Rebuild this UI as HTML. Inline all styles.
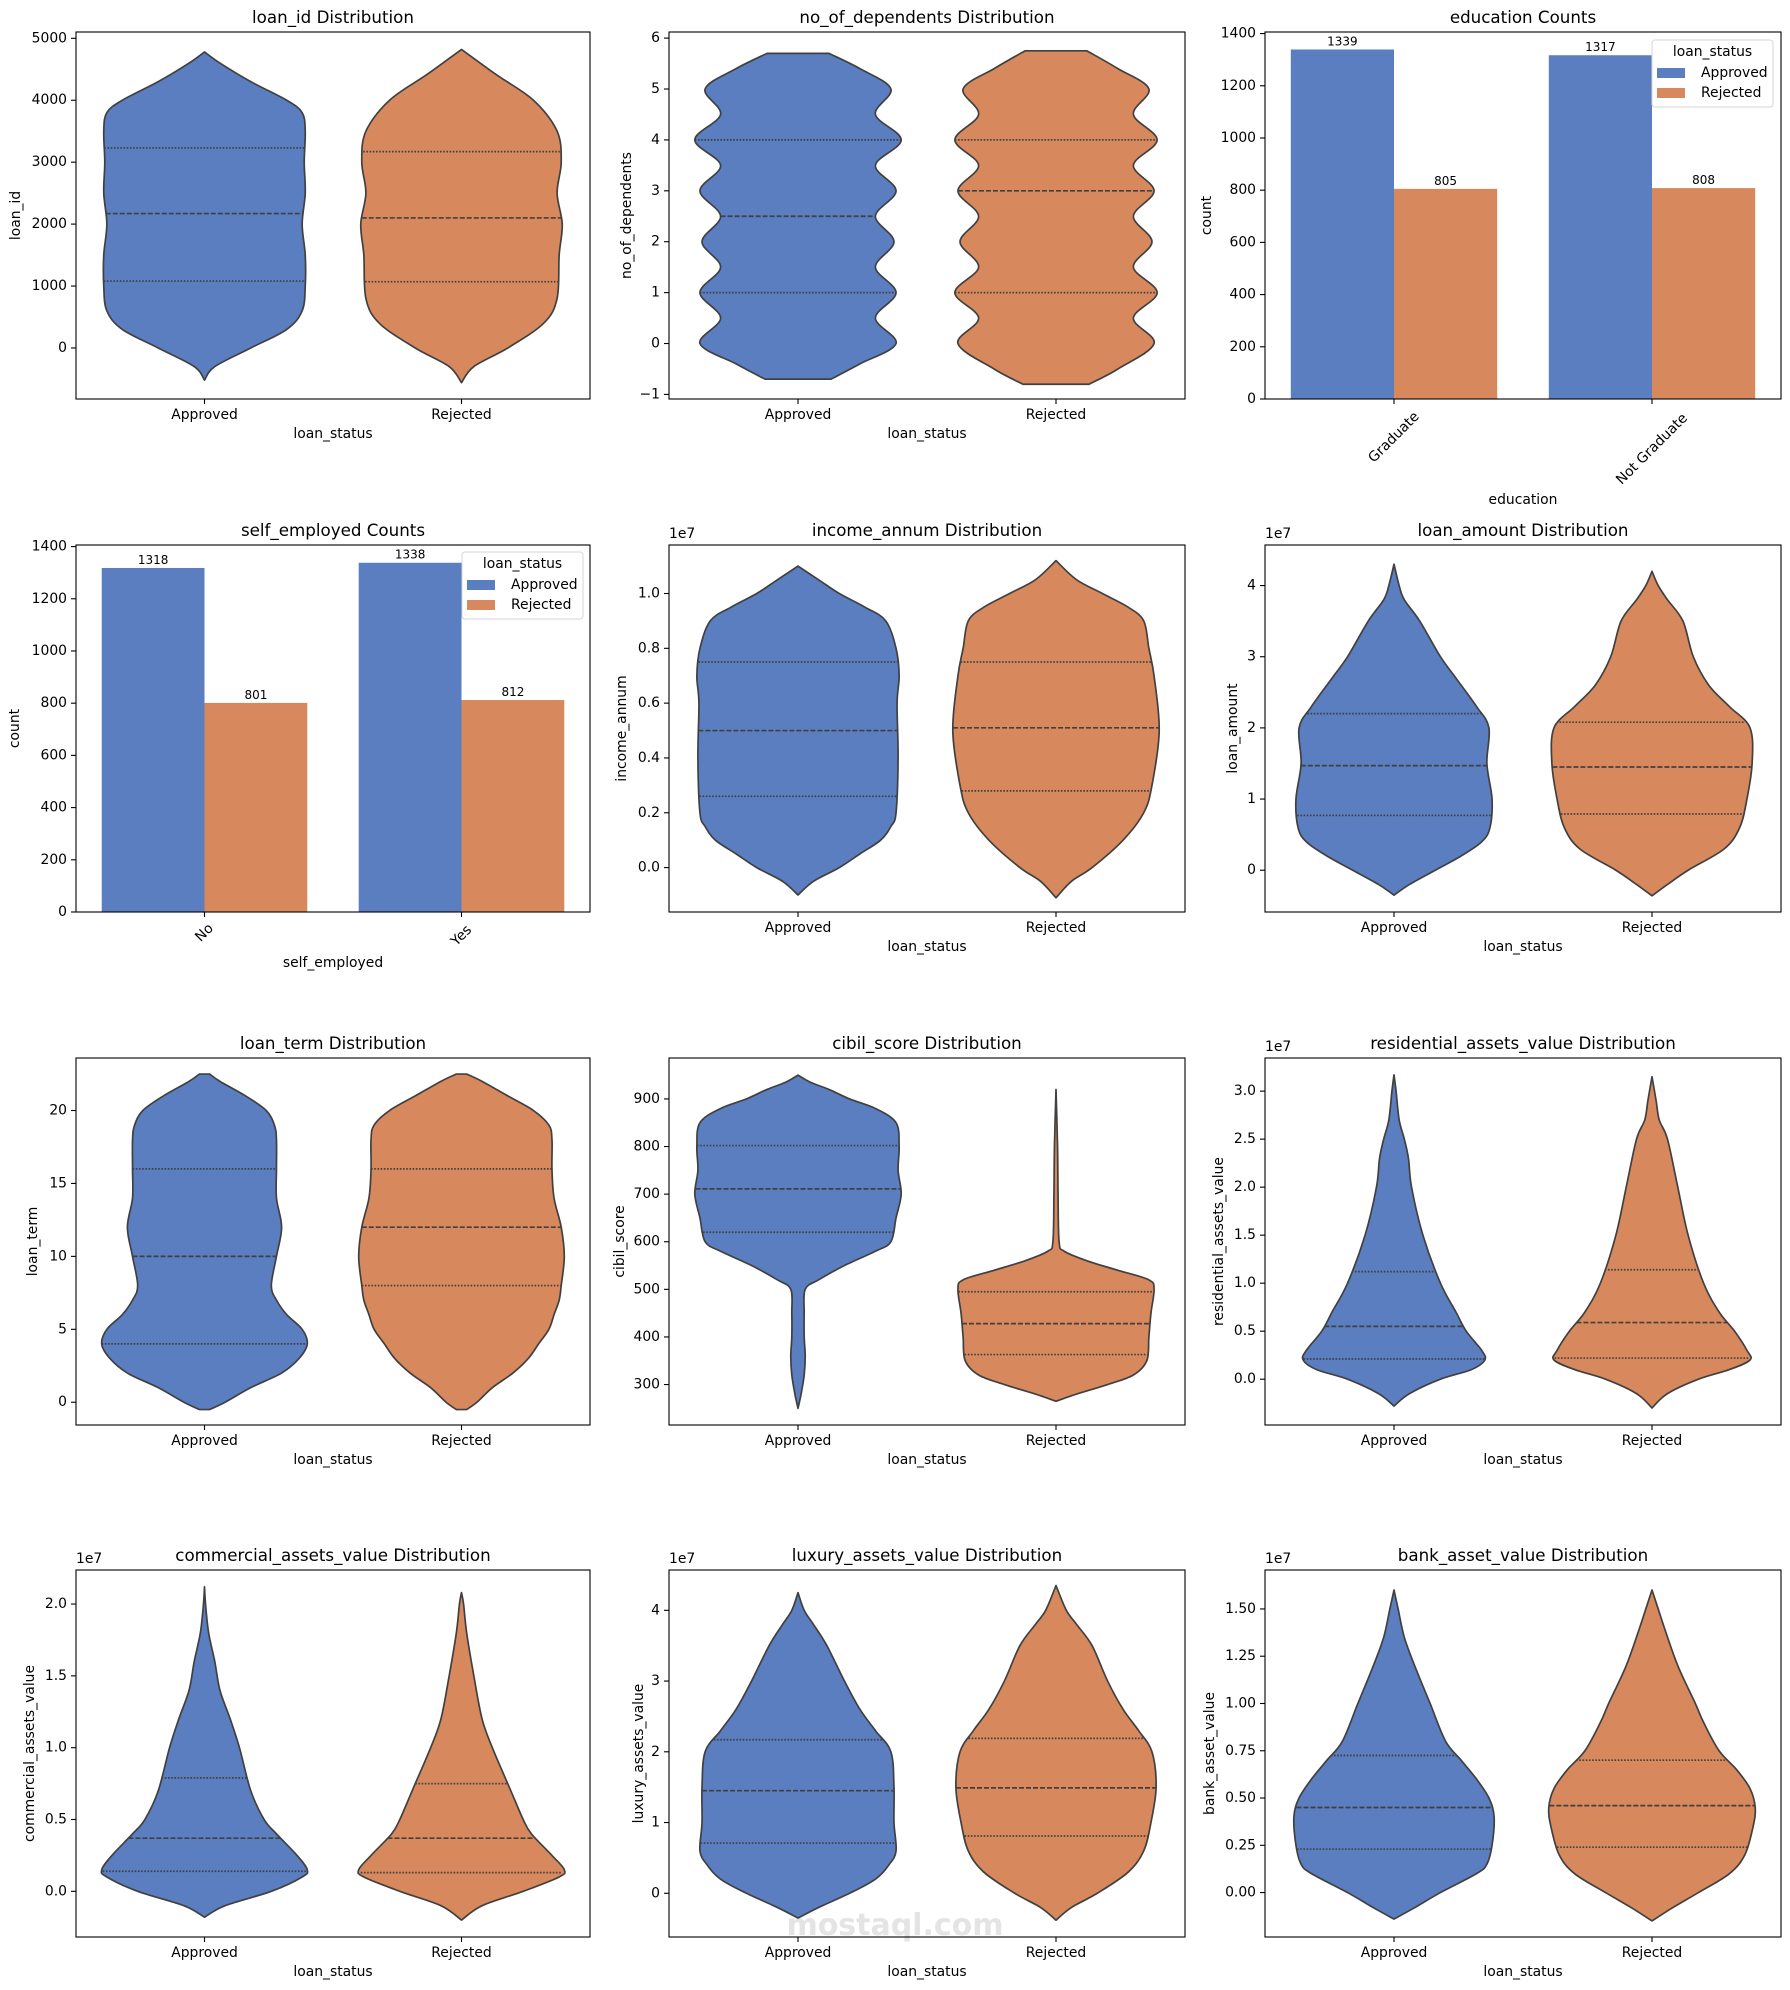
<!DOCTYPE html>
<html><head><meta charset="utf-8"><style>
html,body{margin:0;padding:0;background:#fff;}
svg{display:block;font-family:"DejaVu Sans","Liberation Sans",sans-serif;}
</style></head><body>
<svg id="fig" width="1790" height="1990" viewBox="0 0 1790 1990" xmlns="http://www.w3.org/2000/svg">
<rect width="1790" height="1990" fill="#fff"/>
<text x="895" y="1935" text-anchor="middle" font-size="30" fill="#e4e4e4" font-weight="bold">mostaql.com</text>
</svg>
<script>
// ---------- data ----------
const statusCats = ["Approved","Rejected"];
// loan_id
const loanIdTicks = [0,1000,2000,3000,4000,5000];
const loanIdYA = [-520,-300,0,300,600,1000,1500,2000,2500,3000,3500,3800,4000,4300,4600,4780];
const loanIdWA = [0,0.1,0.45,0.8,0.95,0.98,0.98,0.95,0.98,0.97,0.98,0.95,0.8,0.45,0.15,0];
const loanIdYR = [-560,-300,0,400,800,1500,2000,2500,3000,3500,4000,4400,4700,4820];
const loanIdWR = [0,0.12,0.45,0.8,0.93,0.95,0.98,0.93,0.97,0.93,0.7,0.35,0.1,0];
const loanIdQA = [1080,2170,3230];
const loanIdQR = [1070,2100,3170];
// no_of_dependents
const depTicks = [-1,0,1,2,3,4,5,6];
const depYA = [-0.7,-0.4,0,0.5,1,1.5,2,2.5,3,3.5,4,4.5,5,5.4,5.7];
const depWA = [0.32,0.6,0.95,0.75,0.95,0.75,0.93,0.75,0.95,0.75,1.0,0.75,0.9,0.6,0.3];
const depYR = [-0.8,-0.5,0,0.5,1,1.5,2,2.5,3,3.5,4,4.5,5,5.4,5.75];
const depWR = [0.32,0.6,0.95,0.75,0.98,0.75,0.93,0.75,0.95,0.75,0.98,0.75,0.9,0.6,0.3];
const depQA = [1,2.5,4];
const depQR = [1,3,4];
// education counts
const eduCats = ["Graduate","Not Graduate"];
const eduApproved = [1339,1317];
const eduRejected = [805,808];
const countTicks = [0,200,400,600,800,1000,1200,1400];
// self_employed counts
const selfCats = ["No","Yes"];
const selfApproved = [1318,1338];
const selfRejected = [801,812];
// income_annum (1e7)
const incTicks = [0,0.2,0.4,0.6,0.8,1.0];
const incYA = [-0.1,-0.05,0,0.05,0.1,0.15,0.2,0.4,0.6,0.7,0.8,0.9,0.95,1.0,1.05,1.1];
const incWA = [0,0.15,0.4,0.6,0.8,0.9,0.95,0.97,0.96,0.98,0.95,0.85,0.65,0.4,0.2,0];
const incYR = [-0.11,-0.05,0,0.1,0.2,0.3,0.5,0.7,0.8,0.9,0.95,1.0,1.05,1.12];
const incWR = [0,0.15,0.35,0.65,0.85,0.93,1.0,0.95,0.9,0.85,0.7,0.45,0.2,0];
const incQA = [0.26,0.5,0.75];
const incQR = [0.28,0.51,0.75];
// loan_amount (1e7)
const amtTicks = [0,1,2,3,4];
const amtYA = [-0.35,-0.2,0,0.2,0.4,0.6,1.0,1.5,2.0,2.3,2.7,3.0,3.5,3.8,4.0,4.3];
const amtWA = [0,0.15,0.4,0.65,0.85,0.93,0.95,0.9,0.92,0.8,0.6,0.45,0.25,0.1,0.05,0];
const amtYR = [-0.36,-0.2,0,0.3,0.6,1.0,1.5,2.0,2.3,2.6,3.0,3.5,3.8,4.0,4.2];
const amtWR = [0,0.15,0.35,0.7,0.85,0.92,0.97,0.95,0.75,0.55,0.4,0.3,0.15,0.06,0];
const amtQA = [0.77,1.47,2.2];
const amtQR = [0.79,1.45,2.08];
// loan_term
const termTicks = [0,5,10,15,20];
const termYA = [-0.5,0,1,2,3,4,5,6,7,8,10,12,14,16,18,19,20,21,22,22.5];
const termWA = [0.05,0.2,0.45,0.75,0.92,1.0,0.95,0.8,0.7,0.65,0.7,0.75,0.7,0.7,0.7,0.68,0.6,0.4,0.15,0.05];
const termYR = [-0.5,0,1,2,3,4,5,6,7,8,10,12,14,16,18,19,20,21,22,22.5];
const termWR = [0.05,0.15,0.3,0.5,0.65,0.75,0.85,0.9,0.95,0.97,1.0,0.97,0.9,0.88,0.88,0.85,0.7,0.45,0.2,0.05];
const termQA = [4,10,16];
const termQR = [8,12,16];
// cibil_score
const cibilTicks = [300,400,500,600,700,800,900];
const cibilYA = [250,280,320,360,400,450,500,520,550,580,600,650,700,750,800,850,880,900,920,935,950];
const cibilWA = [0,0.03,0.06,0.07,0.06,0.06,0.07,0.2,0.45,0.75,0.9,0.95,1.0,0.97,0.98,0.95,0.75,0.5,0.3,0.12,0];
const cibilYR = [265,280,300,320,350,400,450,500,520,540,560,580,600,700,800,920];
const cibilWR = [0,0.2,0.5,0.75,0.88,0.9,0.92,0.95,0.9,0.6,0.3,0.08,0.03,0.02,0.015,0];
const cibilQA = [620,711,802];
const cibilQR = [363,428,495];
// residential (1e7)
const resTicks = [0,0.5,1.0,1.5,2.0,2.5,3.0];
const resYA = [-0.28,-0.15,0,0.1,0.2,0.3,0.5,0.7,1.0,1.5,2.0,2.3,2.5,2.7,3.0,3.17];
const resWA = [0,0.15,0.45,0.75,0.88,0.85,0.7,0.6,0.45,0.28,0.17,0.14,0.1,0.05,0.02,0];
const resYR = [-0.3,-0.15,0,0.1,0.2,0.3,0.5,0.7,1.0,1.5,2.0,2.5,2.7,2.9,3.15];
const resWR = [0,0.15,0.45,0.75,0.95,0.92,0.8,0.65,0.5,0.35,0.25,0.15,0.07,0.04,0];
const resQA = [0.21,0.55,1.12];
const resQR = [0.22,0.59,1.14];
// commercial (1e7)
const comTicks = [0,0.5,1.0,1.5,2.0];
const comYA = [-0.18,-0.1,0,0.1,0.15,0.25,0.4,0.5,0.7,1.0,1.2,1.4,1.6,1.8,2.0,2.12];
const comWA = [0,0.2,0.65,0.95,1.0,0.9,0.7,0.58,0.45,0.34,0.25,0.15,0.1,0.04,0.01,0];
const comYR = [-0.2,-0.1,0,0.1,0.15,0.25,0.4,0.5,0.7,1.0,1.2,1.5,1.8,2.0,2.08];
const comWR = [0,0.2,0.6,0.95,1.0,0.88,0.68,0.6,0.48,0.3,0.2,0.12,0.05,0.02,0];
const comQA = [0.14,0.37,0.79];
const comQR = [0.13,0.37,0.75];
// luxury (1e7)
const luxTicks = [0,1,2,3,4];
const luxYA = [-0.35,-0.2,0,0.2,0.4,0.6,1.0,1.5,2.0,2.3,2.6,3.0,3.5,3.8,4.0,4.25];
const luxWA = [0,0.2,0.5,0.75,0.88,0.95,0.93,0.93,0.9,0.75,0.6,0.45,0.28,0.15,0.06,0];
const luxYR = [-0.38,-0.2,0,0.3,0.6,1.0,1.5,2.0,2.3,2.6,3.0,3.5,3.8,4.0,4.35];
const luxWR = [0,0.15,0.4,0.7,0.85,0.92,0.97,0.93,0.8,0.65,0.5,0.35,0.2,0.1,0];
const luxQA = [0.71,1.45,2.17];
const luxQR = [0.81,1.49,2.19];
// bank (1e7)
const bankTicks = [0,0.25,0.5,0.75,1.0,1.25,1.5];
const bankYA = [-0.14,-0.08,0,0.1,0.15,0.25,0.4,0.5,0.6,0.7,0.8,1.0,1.2,1.35,1.5,1.6];
const bankWA = [0,0.2,0.45,0.8,0.9,0.95,0.97,0.92,0.8,0.65,0.5,0.35,0.2,0.1,0.04,0];
const bankYR = [-0.15,-0.08,0,0.1,0.2,0.35,0.45,0.55,0.65,0.75,0.9,1.0,1.2,1.4,1.5,1.6];
const bankWR = [0,0.2,0.45,0.75,0.9,0.98,1.0,0.95,0.82,0.65,0.5,0.42,0.25,0.12,0.06,0];
const bankQA = [0.23,0.45,0.725];
const bankQR = [0.24,0.46,0.70];

// ---------- layout ----------
const COLS = [[76,590],[669,1185],[1265,1781]];
const ROWS = [32,545,1058,1570];
const AH = 367;
const BLUE = "#5a7ebf", ORANGE = "#d7895d", EDGE = "#404040";
const svg = document.getElementById("fig");
const NS = "http://www.w3.org/2000/svg";
function el(tag, attrs, parent){const e=document.createElementNS(NS,tag);for(const k in attrs)e.setAttribute(k,attrs[k]);(parent||svg).appendChild(e);return e;}
function txt(s, attrs, parent){const e=el("text",attrs,parent);e.textContent=s;return e;}

function axesFrame(g, L, R, T, title, ylabel, ylOff, xlabel, offsetText){
  const t = txt(title,{x:(L+R)/2,y:T-9,"text-anchor":"middle","font-size":16.7,fill:"#000"},g);
  
  
  const yl = txt(ylabel,{x:0,y:0,"text-anchor":"middle","dominant-baseline":"central","font-size":13.9,transform:`translate(${L-ylOff},${T+AH/2}) rotate(-90)`},g);
  
  
  if(xlabel){
    const xl = txt(xlabel.text,{x:(L+R)/2,y:T+AH+xlabel.dy,"text-anchor":"middle","dominant-baseline":"central","font-size":13.9},g);
    
    
  }
  if(offsetText){
    const o = txt("1e7",{x:L,y:T-7,"font-size":13.9},g);
    
    
  }
}
function yTicks(g, L, sy, ticks, fmt){
  ticks.forEach(v=>{
    const y = sy(v);
    const tk = el("line",{x1:L-5,x2:L,y1:y,y2:y,stroke:"#000","stroke-width":1.1},g);
    
    
    const lb = txt(fmt(v),{x:L-9,y:y,"text-anchor":"end","dominant-baseline":"central","font-size":13.9},g);
    
    
  });
}
function spines(g,L,R,T){
  const r = el("rect",{x:L,y:T,width:R-L,height:AH,fill:"none",stroke:"#000","stroke-width":1.1},g);
  
  
}
function crPath(pts){
  let d = `M${pts[0][0]},${pts[0][1]}`;
  for(let i=0;i<pts.length-1;i++){
    const p0=pts[Math.max(0,i-1)],p1=pts[i],p2=pts[i+1],p3=pts[Math.min(pts.length-1,i+2)];
    const c1=[p1[0]+(p2[0]-p0[0])/6,p1[1]+(p2[1]-p0[1])/6];
    const c2=[p2[0]-(p3[0]-p1[0])/6,p2[1]-(p3[1]-p1[1])/6];
    d+=` C${c1[0]},${c1[1]} ${c2[0]},${c2[1]} ${p2[0]},${p2[1]}`;
  }
  return d;
}
function interpW(ys, ws, q){
  for(let i=0;i<ys.length-1;i++){ if(q>=ys[i]&&q<=ys[i+1]){const t=(q-ys[i])/(ys[i+1]-ys[i]);return ws[i]+t*(ws[i+1]-ws[i]);} }
  return 0;
}
function violin(g, cx, unit, sy, ys, ws, qs, color, name){
  const right = ys.map((y,i)=>[cx+ws[i]*0.4*unit, sy(y)]);
  const left = ys.map((y,i)=>[cx-ws[i]*0.4*unit, sy(y)]).reverse();
  let d = crPath(right);
  d += ` L${left[0][0]},${left[0][1]} ` + crPath(left).replace(/^M[^ ]+/,"") + " Z";
  const p = el("path",{d:d,fill:color,stroke:EDGE,"stroke-width":1.7,"stroke-linejoin":"round"},g);
  
  
  qs.forEach((q,i)=>{
    const hw = interpW(ys,ws,q)*0.4*unit;
    const ln = el("line",{x1:cx-hw,x2:cx+hw,y1:sy(q),y2:sy(q),stroke:EDGE,"stroke-width":1.7,"stroke-dasharray":i===1?"5,2":"1.6,1.6"},g);
    
    
  });
}
function violinChart(c){
  const [L,R] = COLS[c.col]; const T = ROWS[c.row];
  const g = el("g",{});
  
  
  const sy = v => T + (c.ymax - v)/(c.ymax - c.ymin)*AH;
  const unit = (R-L)/2;
  const sx = i => L + (i+0.5)*unit;
  violin(g, sx(0), unit, sy, c.yA, c.wA, c.qA, BLUE, 'violin-approved');
  violin(g, sx(1), unit, sy, c.yR, c.wR, c.qR, ORANGE, 'violin-rejected');
  spines(g,L,R,T);
  yTicks(g,L,sy,c.ticks,c.fmt);
  statusCats.forEach((s,i)=>{
    const tk = el("line",{x1:sx(i),x2:sx(i),y1:T+AH,y2:T+AH+5,stroke:"#000","stroke-width":1.1},g);
    
    
    const lb = txt(s,{x:sx(i),y:T+AH+16,"text-anchor":"middle","dominant-baseline":"central","font-size":13.9},g);
    
    
  });
  axesFrame(g,L,R,T,c.title,c.ylabel,c.ylOff,{text:"loan_status",dy:35},c.e7);
}
function legend(g, x, y){
  const lg = el("g",{},g);
  
  
  el("rect",{x:x,y:y,width:121,height:67,rx:3,fill:"#fff","fill-opacity":0.8,stroke:"#d6d6d6","stroke-width":1},lg);
  txt("loan_status",{x:x+60.5,y:y+12,"text-anchor":"middle","dominant-baseline":"central","font-size":13.9},lg);
  [["Approved",BLUE,33],["Rejected",ORANGE,53]].forEach(([s,c,dy])=>{
    const e = el("g",{},lg);
    
    
    el("rect",{x:x+5,y:y+dy-5,width:28,height:10,fill:c},e);
    txt(s,{x:x+49,y:y+dy,"dominant-baseline":"central","font-size":13.9},e);
  });
}
function barChart(c){
  const [L,R] = COLS[c.col]; const T = ROWS[c.row];
  const g = el("g",{});
  
  
  const ymax = 1406;
  const sy = v => T + (ymax - v)/ymax*AH;
  const unit = (R-L)/2;
  const sx = i => L + (i+0.5)*unit;
  c.cats.forEach((cat,i)=>{
    [[c.a[i],BLUE,-0.4,'bar-approved'],[c.r[i],ORANGE,0,'bar-rejected']].forEach(([v,col,off,nm])=>{
      const b = el("rect",{x:sx(i)+off*unit,y:sy(v),width:0.4*unit,height:sy(0)-sy(v),fill:col},g);
      
      
      const t = txt(String(v),{x:sx(i)+(off+0.2)*unit,y:sy(v)-4,"text-anchor":"middle","font-size":12},g);
      
      
    });
    const tk = el("line",{x1:sx(i),x2:sx(i),y1:T+AH,y2:T+AH+5,stroke:"#000","stroke-width":1.1},g);
    
    
    const w = cat.length*8.3;
    const cy = T+AH+10+(w+14)*0.707/2;
    const lb = txt(cat,{x:0,y:0,"text-anchor":"middle","dominant-baseline":"central","font-size":13.9,transform:`translate(${sx(i)},${cy}) rotate(-45)`},g);
    
    
  });
  spines(g,L,R,T);
  yTicks(g,L,sy,countTicks,v=>String(v));
  axesFrame(g,L,R,T,c.title,"count",c.ylOff,{text:c.xlabel,dy:c.xdy},false);
  legend(g, c.legX, c.legY);
}
const f0 = v=>String(v), f1 = v=>v.toFixed(1), f2 = v=>v.toFixed(2);
violinChart({name:"loan-id-chart",col:0,row:0,title:"loan_id Distribution",ylabel:"loan_id",ylOff:60,ymin:-824,ymax:5102,ticks:loanIdTicks,fmt:f0,yA:loanIdYA,wA:loanIdWA,yR:loanIdYR,wR:loanIdWR,qA:loanIdQA,qR:loanIdQR});
violinChart({name:"dependents-chart",col:1,row:0,title:"no_of_dependents Distribution",ylabel:"no_of_dependents",ylOff:42,ymin:-1.09,ymax:6.12,ticks:depTicks,fmt:v=>v<0?"\u2212"+Math.abs(v):String(v),yA:depYA,wA:depWA,yR:depYR,wR:depWR,qA:depQA,qR:depQR});
barChart({name:"education-chart",col:2,row:0,title:"education Counts",ylOff:58,cats:eduCats,a:eduApproved,r:eduRejected,xlabel:"education",xdy:101,legX:1652,legY:40});
barChart({name:"self-employed-chart",col:0,row:1,title:"self_employed Counts",ylOff:61,cats:selfCats,a:selfApproved,r:selfRejected,xlabel:"self_employed",xdy:51,legX:462,legY:552});
violinChart({name:"income-chart",col:1,row:1,title:"income_annum Distribution",ylabel:"income_annum",ylOff:47,ymin:-0.162,ymax:1.177,ticks:incTicks,fmt:f1,e7:true,yA:incYA,wA:incWA,yR:incYR,wR:incWR,qA:incQA,qR:incQR});
violinChart({name:"loan-amount-chart",col:2,row:1,title:"loan_amount Distribution",ylabel:"loan_amount",ylOff:32,ymin:-0.587,ymax:4.57,ticks:amtTicks,fmt:f0,e7:true,yA:amtYA,wA:amtWA,yR:amtYR,wR:amtWR,qA:amtQA,qR:amtQR});
violinChart({name:"loan-term-chart",col:0,row:2,title:"loan_term Distribution",ylabel:"loan_term",ylOff:43,ymin:-1.56,ymax:23.6,ticks:termTicks,fmt:f0,yA:termYA,wA:termWA,yR:termYR,wR:termWR,qA:termQA,qR:termQR});
violinChart({name:"cibil-chart",col:1,row:2,title:"cibil_score Distribution",ylabel:"cibil_score",ylOff:49,ymin:215,ymax:986,ticks:cibilTicks,fmt:f0,yA:cibilYA,wA:cibilWA,yR:cibilYR,wR:cibilWR,qA:cibilQA,qR:cibilQR});
violinChart({name:"residential-chart",col:2,row:2,title:"residential_assets_value Distribution",ylabel:"residential_assets_value",ylOff:46,ymin:-0.477,ymax:3.345,ticks:resTicks,fmt:f1,e7:true,yA:resYA,wA:resWA,yR:resYR,wR:resWR,qA:resQA,qR:resQR});
violinChart({name:"commercial-chart",col:0,row:3,title:"commercial_assets_value Distribution",ylabel:"commercial_assets_value",ylOff:46,ymin:-0.318,ymax:2.237,ticks:comTicks,fmt:f1,e7:true,yA:comYA,wA:comWA,yR:comYR,wR:comWR,qA:comQA,qR:comQR});
violinChart({name:"luxury-chart",col:1,row:3,title:"luxury_assets_value Distribution",ylabel:"luxury_assets_value",ylOff:30,ymin:-0.618,ymax:4.57,ticks:luxTicks,fmt:f0,e7:true,yA:luxYA,wA:luxWA,yR:luxYR,wR:luxWR,qA:luxQA,qR:luxQR});
violinChart({name:"bank-chart",col:2,row:3,title:"bank_asset_value Distribution",ylabel:"bank_asset_value",ylOff:55,ymin:-0.235,ymax:1.706,ticks:bankTicks,fmt:f2,e7:true,yA:bankYA,wA:bankWA,yR:bankYR,wR:bankWR,qA:bankQA,qR:bankQR});
</script>
</body></html>
